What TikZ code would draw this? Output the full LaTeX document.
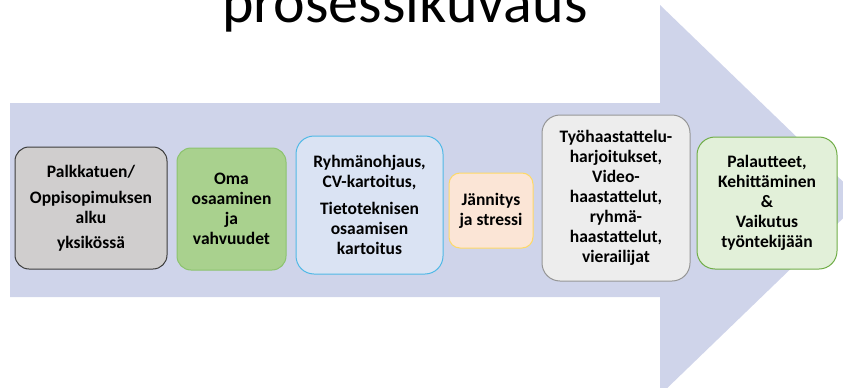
\documentclass[tikz,border=0pt]{standalone}
\usepackage{fontspec}
\setmainfont{Carlito}
\definecolor{arrowc}{RGB}{207,212,234}
\definecolor{g1fill}{RGB}{208,206,206}
\definecolor{g1draw}{RGB}{60,60,60}
\definecolor{g2fill}{RGB}{169,209,142}
\definecolor{g2draw}{RGB}{140,195,110}
\definecolor{b3fill}{RGB}{218,227,243}
\definecolor{b3draw}{RGB}{80,185,230}
\definecolor{p4fill}{RGB}{251,229,214}
\definecolor{p4draw}{RGB}{255,217,102}
\definecolor{g5fill}{RGB}{237,237,237}
\definecolor{g5draw}{RGB}{150,150,150}
\definecolor{g6fill}{RGB}{226,240,217}
\definecolor{g6draw}{RGB}{112,173,71}
\tikzset{
  stepbox/.style={rectangle, rounded corners=14pt, line width=1pt, align=center,
    inner sep=0pt, font=\fontsize{17.5}{20}\selectfont\bfseries},
}
\begin{document}
\begin{tikzpicture}[x=1pt,y=-1pt]
\useasboundingbox (0,0) rectangle (843,388);
\clip (0,0) rectangle (843,388);
\fill[arrowc] (10,103) -- (660,103) -- (660,5) -- (862,200) -- (660,395) -- (660,297) -- (10,297) -- cycle;
\node[font=\fontsize{60}{62}\selectfont, anchor=base] (title) at (405,22) {prosessikuvaus};

\node[stepbox, fill=g1fill, draw=g1draw, minimum width=152pt, minimum height=122pt] (b1) at (91,208)
  {Palkkatuen/\\[6pt]Oppisopimuksen\\alku\\[5pt]yksikössä};
\node[stepbox, fill=g2fill, draw=g2draw, minimum width=109pt, minimum height=122pt] (b2) at (231.5,209)
  {Oma\\osaaminen\\ja\\vahvuudet};
\node[stepbox, fill=b3fill, draw=b3draw, rounded corners=18pt, minimum width=147pt, minimum height=138pt] (b3) at (369.5,205)
  {Ryhmänohjaus,\\CV-kartoitus,\\[7pt]Tietoteknisen\\osaamisen\\kartoitus};
\node[stepbox, fill=p4fill, draw=p4draw, rounded corners=11pt, minimum width=84pt, minimum height=75pt] (b4) at (491,210.5)
  {Jännitys\\ja stressi};
\node[stepbox, fill=g5fill, draw=g5draw, rounded corners=18pt, minimum width=148pt, minimum height=166pt] (b5) at (616,198)
  {Työhaastattelu-\\harjoitukset,\\Video-\\haastattelut,\\ryhmä-\\haastattelut,\\vierailijat};
\node[stepbox, fill=g6fill, draw=g6draw, rounded corners=18pt, minimum width=140pt, minimum height=132pt] (b6) at (767,203)
  {Palautteet,\\Kehittäminen\\\&\\Vaikutus\\työntekijään};
\end{tikzpicture}
\end{document}
